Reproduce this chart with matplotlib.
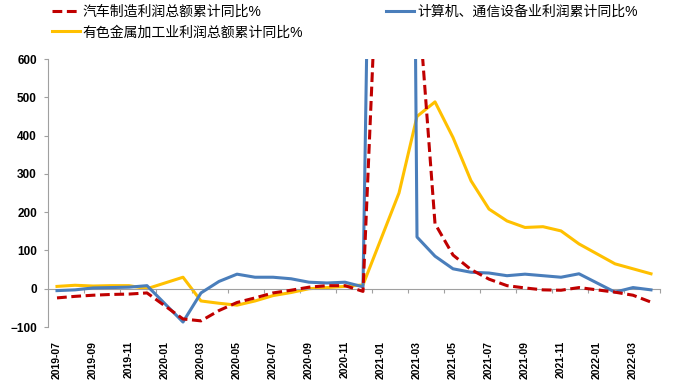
import numpy as np
import matplotlib
matplotlib.use('Agg')
import matplotlib.pyplot as plt

plt.rcParams['font.family'] = ['Liberation Sans', 'Noto Sans CJK SC', 'DejaVu Sans']

# 月份标签 (2019-07 .. 2022-04)
months = ['2019-07', '2019-08', '2019-09', '2019-10', '2019-11', '2019-12',
          '2020-01', '2020-02', '2020-03', '2020-04', '2020-05', '2020-06',
          '2020-07', '2020-08', '2020-09', '2020-10', '2020-11', '2020-12',
          '2021-01', '2021-02', '2021-03', '2021-04', '2021-05', '2021-06',
          '2021-07', '2021-08', '2021-09', '2021-10', '2021-11', '2021-12',
          '2022-01', '2022-02', '2022-03', '2022-04']

nan = np.nan
# 汽车制造利润总额累计同比%
auto = [-24, -20, -17, -15, -14, -11,
        nan, -79, -84, -57, -36, -24, -11, -4, 4, 8, 8, -7,
        nan, 2200, 800, 170, 88, 50, 25, 8, 2, -3, -4, 3,
        nan, -9, -17, -35]
# 计算机、通信设备业利润累计同比%
computer = [-5, -3, 2, 3, 4, 8,
            nan, -87, -11, 19, 38, 30, 30, 26, 17, 15, 17, 5,
            nan, 6000, 135, 85, 52, 43, 41, 34, 38, 34, 30, 39,
            nan, -9, 3, -3]
# 有色金属加工业利润总额累计同比%
metal = [6, 9, 7, 8, 8, 0,
         nan, 30, -32, -38, -43, -32, -18, -10, 0, 3, 6, 10,
         nan, 250, 450, 488, 395, 282, 208, 177, 160, 162, 151, 117,
         nan, 65, 52, 39]

x = np.arange(len(months))


def valid(vals):
    v = np.array(vals, dtype=float)
    m = ~np.isnan(v)
    return x[m], v[m]


fig = plt.figure(figsize=(6.74, 3.91), dpi=100)
ax = fig.add_axes([48 / 674, 1 - 327 / 391, (660 - 48) / 674, (327 - 59) / 391])

xa, ya = valid(auto)
xc, yc = valid(computer)
xm, ym = valid(metal)
l_auto, = ax.plot(xa, ya, color='#C00000', lw=2.2, dashes=(3.2, 1.5),
                  label='汽车制造利润总额累计同比%', zorder=4)
l_comp, = ax.plot(xc, yc, color='#4A7EBB', lw=2.2,
                  label='计算机、通信设备业利润累计同比%', zorder=3)
l_metal, = ax.plot(xm, ym, color='#FFC000', lw=2.2,
                   label='有色金属加工业利润总额累计同比%', zorder=2)

ax.set_xlim(-0.5, len(months) - 0.5)
ax.set_ylim(-100, 600)
ax.set_yticks(range(-100, 601, 100))
ax.tick_params(axis='y', direction='out', length=3, color='#A0A0A0',
               labelsize=8.5, pad=5)
for t in ax.get_yticklabels():
    t.set_fontweight('bold')

# 横轴线在 0 处，刻度在类别之间
ax.spines['top'].set_visible(False)
ax.spines['right'].set_visible(False)
ax.spines['left'].set_color('#A0A0A0')
ax.spines['bottom'].set_color('#A0A0A0')
ax.spines['bottom'].set_position(('data', 0))
ax.set_xticks(np.arange(1.5, len(months), 2))
ax.set_xticklabels([])
ax.tick_params(axis='x', direction='out', length=3, color='#A0A0A0')

# 标签放在图底部
sec = ax.secondary_xaxis(0.0)
sec.set_xticks(x[::2])
sec.set_xticklabels(months[::2], rotation=90, fontsize=7.5, fontweight='bold')
sec.tick_params(length=0, pad=10)
sec.spines['bottom'].set_visible(False)

fig.legend(handles=[l_auto, l_metal, l_comp], ncol=2, frameon=False,
           loc='upper left', bbox_to_anchor=(52 / 674, 1 - 5 / 391),
           fontsize=10, handlelength=2.0, handletextpad=0.2,
           columnspacing=6.0, labelspacing=0.45, borderpad=0, borderaxespad=0)

plt.savefig('out.png', dpi=100)
